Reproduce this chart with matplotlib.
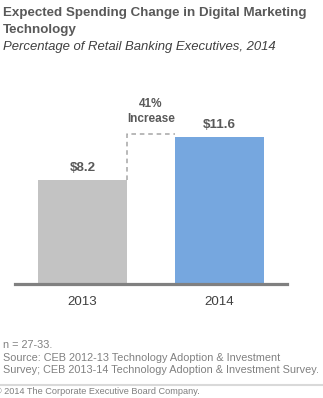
import matplotlib
matplotlib.use("Agg")
import matplotlib.pyplot as plt
from matplotlib.lines import Line2D

categories = ["2013", "2014"]
values = [8.2, 11.6]
value_labels = ["$8.2", "$11.6"]
bar_colors = ["#C3C3C3", "#76A7DF"]
increase_label = ["41%", "Increase"]

title = "Expected Spending Change in Digital Marketing\nTechnology"
subtitle = "Percentage of Retail Banking Executives, 2014"
notes = ["n = 27-33.",
         "Source: CEB 2012-13 Technology Adoption & Investment",
         "Survey; CEB 2013-14 Technology Adoption & Investment Survey."]
copyright_text = "\u00a9 2014 The Corporate Executive Board Company."

plt.rcParams['font.family'] = ['Liberation Sans', 'DejaVu Sans']

W, H = 323, 398
fig = plt.figure(figsize=(W / 100, H / 100), dpi=100)

def fy(px):
    return 1 - px / H

def fx(px):
    return px / W

# axes: baseline at y=284px, x from 15 to 287 px
ax_bottom_px = 284
ax_top_px = 90
ax = fig.add_axes([fx(15), fy(ax_bottom_px), fx(287) - fx(15), (ax_bottom_px - ax_top_px) / H])
ax.set_xlim(-0.4945, 1.498)
ax.set_ylim(0, (ax_bottom_px - ax_top_px) / 12.68)
ax.axis('off')

bw = 0.652
xs = list(range(len(categories)))
ax.bar(xs, values, width=bw, color=bar_colors, edgecolor='none', zorder=2)
ax.axhline(0, color="#808080", lw=2.3, zorder=3, clip_on=False)

for x, v, lab in zip(xs, values, value_labels):
    ax.annotate(lab, xy=(x, v), xytext=(0, 6.5), textcoords='offset points',
                ha='center', va='baseline', fontsize=9.6, fontweight='bold', color="#595959")

for x, c in zip(xs, categories):
    ax.annotate(c, xy=(x, 0), xytext=(0, -15), textcoords='offset points',
                ha='center', va='baseline', fontsize=9.6, color="#404040")

# dashed increase bracket
top = values[1] + 0.25
x0 = xs[0] + bw / 2
x1 = xs[1] - bw / 2
ax.plot([x0, x0, x1], [values[0], top, top], ls=(0, (3, 2.5)), color="#A6A6A6", lw=1.1, zorder=1, clip_on=False)
ax.annotate(increase_label[0], xy=((x0 + x1) / 2, top), xytext=(0, 19.5), textcoords='offset points',
            ha='center', va='baseline', fontsize=8.5, fontweight='bold', color="#595959")
ax.annotate(increase_label[1], xy=((x0 + x1) / 2, top), xytext=(0, 8.5), textcoords='offset points',
            ha='center', va='baseline', fontsize=8.5, fontweight='bold', color="#595959")

# titles
lines = title.split("\n")
fig.text(fx(3), fy(16), lines[0], fontsize=9.6, fontweight='bold', color="#595959", va='baseline', ha='left')
fig.text(fx(3), fy(33), lines[1], fontsize=9.6, fontweight='bold', color="#595959", va='baseline', ha='left')
fig.text(fx(3), fy(50), subtitle, fontsize=9.45, style='italic', color="#404040", va='baseline', ha='left')

# notes
for txt, b in zip(notes, [348, 361, 373]):
    fig.text(fx(3), fy(b), txt, fontsize=7.8, color="#808080", va='baseline', ha='left')

fig.add_artist(Line2D([0, 1], [fy(384.5), fy(384.5)], transform=fig.transFigure, color="#D9D9D9", lw=1.5))
fig.text(fx(-5), fy(394), copyright_text, fontsize=6.6, color="#7F7F7F", va='baseline', ha='left')

fig.savefig("out.png", dpi=100)
